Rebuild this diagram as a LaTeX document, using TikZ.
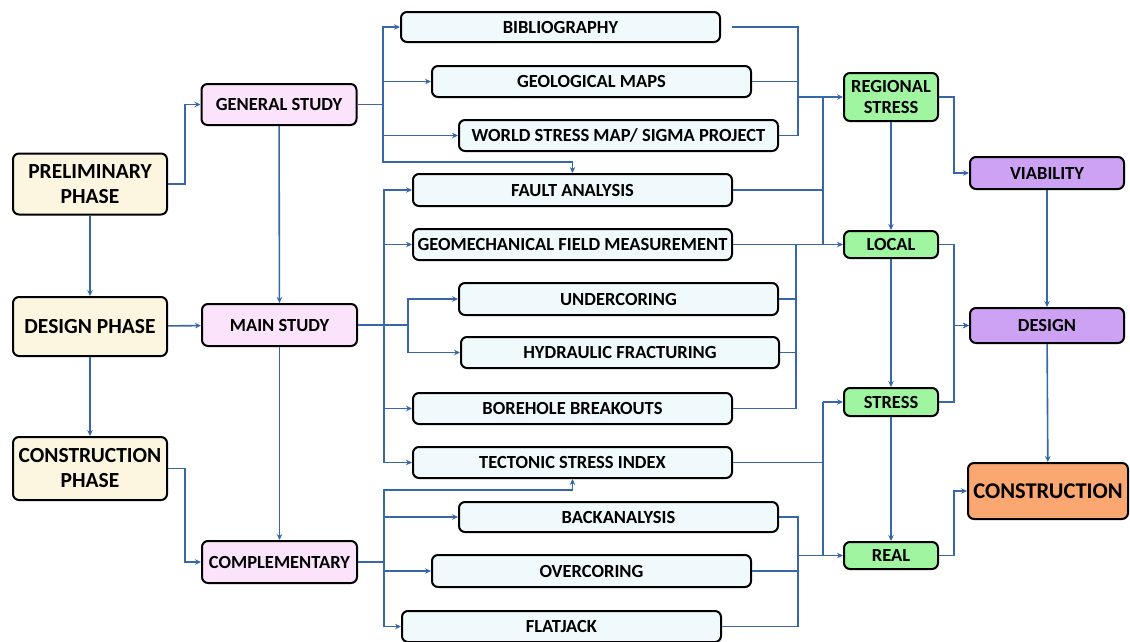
\documentclass[tikz,border=0pt]{standalone}
\usepackage{fontspec}
\setmainfont{Carlito}
\usetikzlibrary{arrows.meta}
\definecolor{lnblue}{HTML}{3767A8}
\definecolor{creamfill}{HTML}{FCF5E0}
\definecolor{pinkfill}{HTML}{FBE3FB}
\definecolor{icefill}{HTML}{F0FAFD}
\definecolor{greenfill}{HTML}{A0F5A0}
\definecolor{purplefill}{HTML}{CDA2F5}
\definecolor{orangefill}{HTML}{FBA771}
\tikzset{
  box/.style={draw=black, line width=2pt, rounded corners=6pt, align=center,
    inner sep=0pt, font=\bfseries},
  phase/.style={box, fill=creamfill, minimum width=154pt, font=\fontsize{21.5}{25}\selectfont\bfseries},
  study/.style={box, fill=pinkfill, minimum width=155pt, minimum height=42pt, font=\fontsize{18.5}{22}\selectfont\bfseries},
  method/.style={box, fill=icefill, minimum width=319pt, minimum height=31pt, font=\fontsize{18.5}{22}\selectfont\bfseries},
  level/.style={box, fill=greenfill, minimum width=94pt, font=\fontsize{18.5}{21}\selectfont\bfseries},
  goal/.style={box, fill=purplefill, minimum width=154pt, font=\fontsize{18.5}{22}\selectfont\bfseries},
  ln/.style={draw=lnblue, line width=1.6pt},
  arr/.style={ln, -{Stealth[length=6pt,width=5.5pt]}}
}
\begin{document}
\begin{tikzpicture}[x=1pt, y=-1pt]
\useasboundingbox (0,0) rectangle (1130,641);

% phases
\node[phase, minimum height=61pt] (pre) at (90,184) {PRELIMINARY\\PHASE};
\node[phase, minimum height=59pt] (des) at (90,326.5) {DESIGN PHASE};
\node[phase, minimum height=63pt] (con) at (90,468.5) {CONSTRUCTION\\PHASE};

% studies
\node[study, minimum height=41pt] (gen) at (279,104.5) {GENERAL STUDY};
\node[study] (main) at (279.5,325) {MAIN STUDY};
\node[study] (comp) at (279.5,562) {COMPLEMENTARY};

% methods
\node[method, minimum height=30pt] (bib) at (560.5,27) {BIBLIOGRAPHY};
\node[method] (geo) at (591.5,81.5) {GEOLOGICAL MAPS};
\node[method] (wsm) at (618.5,135.5) {WORLD STRESS MAP/ SIGMA PROJECT};
\node[method, minimum height=32pt] (fault) at (572.5,190) {FAULT ANALYSIS};
\node[method] (gfm) at (572.5,244.5) {GEOMECHANICAL FIELD MEASUREMENT};
\node[method, minimum height=32pt] (und) at (618.5,299) {UNDERCORING};
\node[method, minimum width=318pt] (hyd) at (620,352.5) {HYDRAULIC FRACTURING};
\node[method] (bore) at (572.5,408.5) {BOREHOLE BREAKOUTS};
\node[method] (tect) at (572.5,462.5) {TECTONIC STRESS INDEX};
\node[method, minimum height=30pt] (back) at (618.5,517) {BACKANALYSIS};
\node[method, minimum height=32pt] (over) at (591.5,571) {OVERCORING};
\node[method] (flat) at (561.5,626.5) {FLATJACK};

% stress levels
\node[level, minimum height=48pt] (reg) at (891,97) {REGIONAL\\STRESS};
\node[level, minimum height=27pt] (loc) at (891,244.5) {LOCAL};
\node[level, minimum height=28pt] (str) at (891,402) {STRESS};
\node[level, minimum height=27pt] (real) at (891,555.5) {REAL};

% outcomes
\node[goal, minimum height=32pt] (via) at (1047,173) {VIABILITY};
\node[goal, minimum height=35pt] (dsg) at (1047,325.5) {DESIGN};
\node[box, fill=orangefill, minimum width=160pt, minimum height=56pt,
  font=\fontsize{22.5}{26}\selectfont\bfseries] (cons) at (1048,491) {CONSTRUCTION};

% junction points
\coordinate (g0) at (383,104.5);
\coordinate (g1) at (383,162);
\coordinate (m0) at (384,325);
\coordinate (m1) at (408,325);
\coordinate (c0) at (384,562);
\coordinate (c1) at (384,490);
\coordinate (r1) at (798,97);
\coordinate (r2) at (823,97);
\coordinate (r3) at (823,244.5);
\coordinate (r4) at (796,244.5);
\coordinate (s1) at (823,402);
\coordinate (s2) at (823,555.5);
\coordinate (r5) at (798,555.5);

% phase and study flow
\draw[arr] (pre) -- (des);
\draw[arr] (des) -- (con);
\draw[arr] (des) -- (main);
\draw[arr] (gen) -- (main);
\draw[arr] (main) -- (comp);
\draw[arr] (pre.east) -- ++(17,0) |- (gen.west);
\draw[arr] (con.east) -- ++(17,0) |- (comp.west);

% general study branches
\draw[ln] (gen.east) -- (g0);
\draw[arr] (g0) |- (bib.west);
\draw[arr] (g0) |- (geo.west);
\draw[arr] (g0) |- (wsm.west);
\draw[arr] (g0) -- (g1) -| (fault.north);

% main study branches
\draw[ln] (main.east) -- (m1);
\draw[arr] (m0) |- (fault.west);
\draw[arr] (m0) |- (gfm.west);
\draw[arr] (m0) |- (bore.west);
\draw[arr] (m0) |- (tect.west);
\draw[arr] (m1) |- (und.west);
\draw[arr] (m1) |- (hyd.west);

% complementary branches
\draw[ln] (comp.east) -- (c0);
\draw[arr] (c0) |- (back.west);
\draw[arr] (c0) |- (over.west);
\draw[arr] (c0) |- (flat.west);
\draw[arr] (c0) -- (c1) -| (tect.south);

% collectors towards regional and local stress
\draw[ln, shorten <=11pt] (bib.east) -| (r1);
\draw[ln] (wsm.east) -| (r1);
\draw[ln] (geo.east) -- (geo.east -| r1);
\draw[arr] (r1) -- (reg.west);
\draw[ln] (fault.east) -| (r2);
\draw[ln] (r2) -- (r3);
\draw[arr] (gfm.east) -- (loc.west);
\draw[ln] (und.east) -| (r4);
\draw[ln] (hyd.east) -| (r4);
\draw[ln] (bore.east) -| (r4);

% collectors towards stress and real
\draw[ln] (tect.east) -- (tect.east -| s1);
\draw[ln] (s1) -- (s2);
\draw[arr] (s1) -- (str.west);
\draw[ln] (back.east) -| (r5);
\draw[ln] (flat.east) -| (r5);
\draw[ln] (over.east) -- (over.east -| r5);
\draw[arr] (r5) -- (real.west);

% stress level chain
\draw[arr] (reg) -- (loc);
\draw[arr] (loc) -- (str);
\draw[arr] (str) -- (real);

% outcomes
\draw[arr] (reg.east) -- ++(15,0) |- (via.west);
\draw[arr] (loc.east) -- ++(15,0) |- (dsg.west);
\draw[arr] (str.east) -- ++(15,0) |- (dsg.west);
\draw[arr] (real.east) -- ++(15,0) |- (cons.west);
\draw[arr] (via) -- (dsg);
\draw[arr] (dsg) -- (cons);
\end{tikzpicture}
\end{document}
